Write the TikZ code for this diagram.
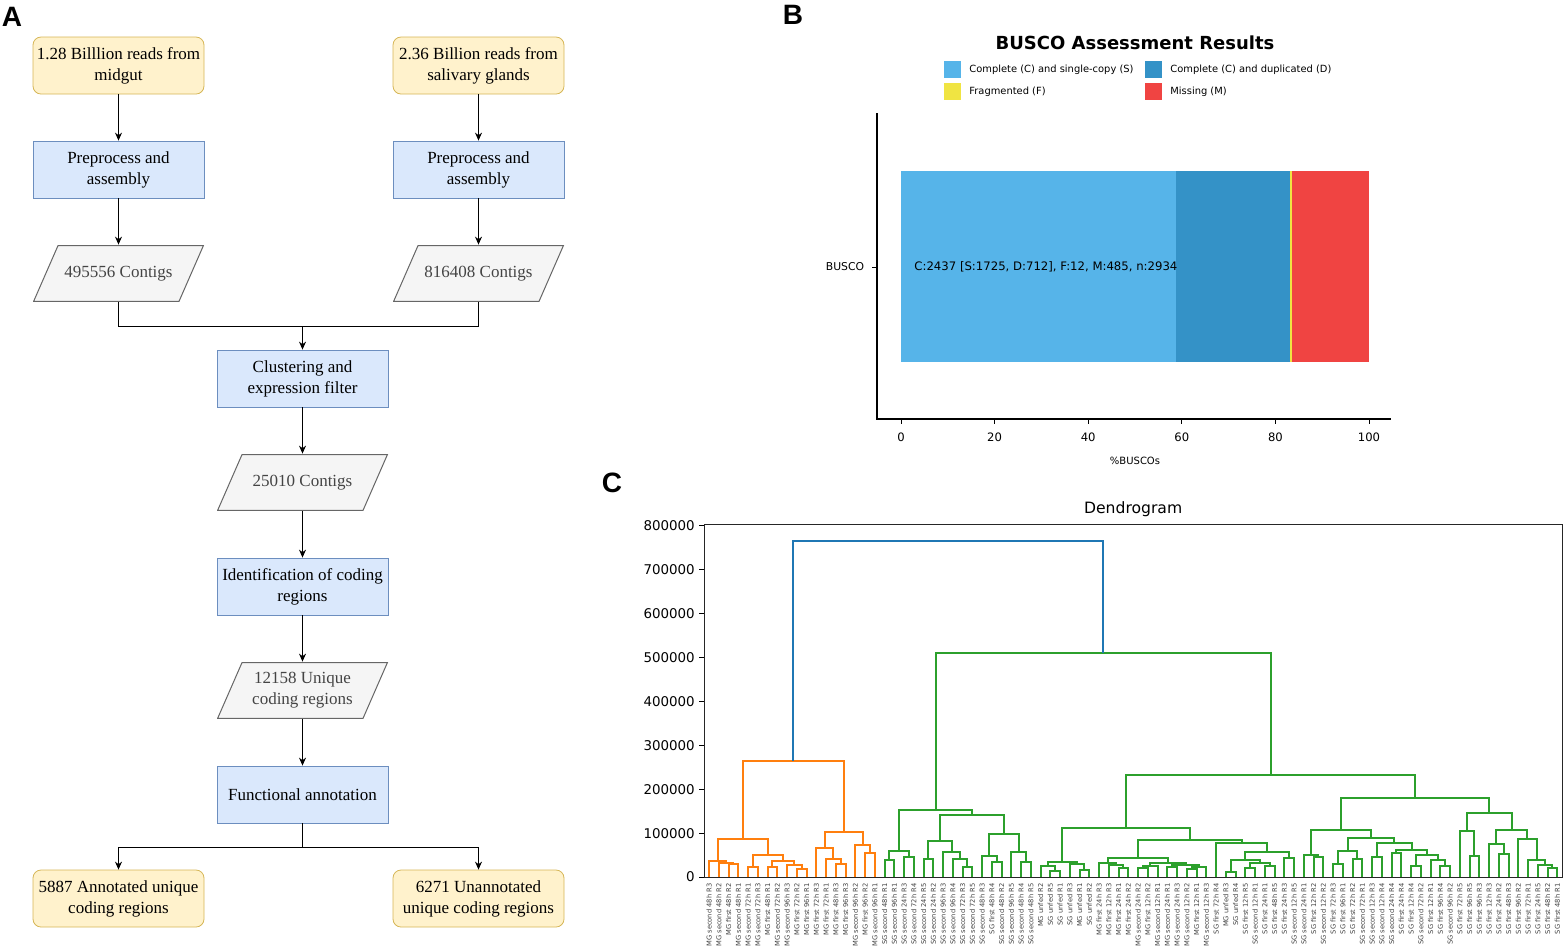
\documentclass[tikz,border=0pt]{standalone}
\usepackage{fontspec}
\setmainfont{Liberation Serif}
\newfontfamily\mplfont{DejaVu Sans}
\newfontfamily\panelfont{Liberation Sans}
\usetikzlibrary{arrows.meta,positioning}
\definecolor{readfill}{HTML}{FFF2CC}
\definecolor{readline}{HTML}{D6B656}
\definecolor{procfill}{HTML}{DAE8FC}
\definecolor{procline}{HTML}{6C8EBF}
\definecolor{datafill}{HTML}{F5F5F5}
\definecolor{dataline}{HTML}{666666}
\definecolor{datatext}{HTML}{444444}
\definecolor{buscoS}{HTML}{56B4E9}
\definecolor{buscoD}{HTML}{3492C7}
\definecolor{buscoF}{HTML}{F0E442}
\definecolor{buscoM}{HTML}{F04442}
\definecolor{tabblue}{HTML}{1F77B4}
\definecolor{taborange}{HTML}{FF7F0E}
\definecolor{tabgreen}{HTML}{2CA02C}
\newcommand{\mplsize}[1]{\mplfont\fontsize{#1}{#1}\selectfont}

\begin{document}
\begin{tikzpicture}[x=0.5pt, y=-0.5pt, >={Stealth[length=4pt,width=3.5pt]},
    readbox/.style={draw=readline, fill=readfill, rounded corners=4pt, minimum width=85.5pt, minimum height=28.5pt, inner sep=1pt, align=center, font=\fontsize{8.5}{10.5}\selectfont},
    procbox/.style={draw=procline, fill=procfill, minimum width=85.5pt, minimum height=28.5pt, inner sep=1pt, align=center, font=\fontsize{8.5}{10.5}\selectfont},
    databox/.style={fill=white, minimum width=85.5pt, minimum height=28.5pt, inner sep=1pt, align=center, text=datatext, font=\fontsize{8.5}{10.5}\selectfont,
        path picture={\draw[draw=dataline, fill=datafill, line width=0.5pt]
            ([xshift=0.3pt,yshift=0.3pt]path picture bounding box.south west)
            -- ([xshift=12.5pt,yshift=-0.3pt]path picture bounding box.north west)
            -- ([xshift=-0.3pt,yshift=-0.3pt]path picture bounding box.north east)
            -- ([xshift=-12.5pt,yshift=0.3pt]path picture bounding box.south east) -- cycle;}},
    panlab/.style={font=\panelfont\bfseries\fontsize{14}{14}\selectfont, inner sep=0pt},
    leaflab/.style={rotate=90, anchor=east, inner sep=0pt, text=black!75, font=\mplsize{3.35}},
    orangeline/.style={draw=taborange, line width=1pt},
    greenline/.style={draw=tabgreen, line width=1pt},
    blueline/.style={draw=tabblue, line width=1pt}]
\useasboundingbox (0,0) rectangle (1566,950);

\node[panlab] (labA) at (12,17) {A};
\node[panlab] (labB) at (793,15) {B};
\node[panlab] (labC) at (612,483) {C};

\node[readbox] (mg) at (118.5,65.5) {1.28 Billlion reads from\\midgut};
\node[readbox] (sg) at (478.5,65.5) {2.36 Billion reads from\\salivary glands};
\node[procbox] (mgpre) at (118.5,169.5) {Preprocess and\\assembly};
\node[procbox] (sgpre) at (478.5,169.5) {Preprocess and\\assembly};
\node[databox] (mgctg) at (118.5,273.5) {495556 Contigs};
\node[databox] (sgctg) at (478.5,273.5) {816408 Contigs};
\node[procbox] (clus) at (302.5,378.5) {Clustering and\\expression filter};
\node[databox] (allctg) at (302.5,482.5) {25010 Contigs};
\node[procbox] (ident) at (302.5,586.5) {Identification of coding\\regions};
\node[databox] (uniq) at (302.5,690.5) {12158 Unique\\coding regions};
\node[procbox] (func) at (302.5,794.5) {Functional annotation};
\node[readbox] (annot) at (118.5,898.5) {5887 Annotated unique\\coding regions};
\node[readbox] (unannot) at (478.5,898.5) {6271 Unannotated\\unique coding regions};
\coordinate (jtop) at (302.5,326);
\coordinate (jbot) at (302.5,847);

\draw[line width=0.5pt]
    (mg) edge[->] (mgpre)
    (sg) edge[->] (sgpre)
    (mgpre) edge[->] (mgctg)
    (sgpre) edge[->] (sgctg)
    (mgctg.south) |- (jtop)
    (sgctg.south) |- (jtop)
    (jtop) edge[->] (clus)
    (clus) edge[->] (allctg)
    (allctg) edge[->] (ident)
    (ident) edge[->] (uniq)
    (uniq) edge[->] (func)
    (func) -- (jbot)
    (jbot) edge[->, to path={-| (\tikztotarget)}] (annot)
    (jbot) edge[->, to path={-| (\tikztotarget)}] (unannot);

% BUSCO
\node[font=\mplfont\bfseries\fontsize{9}{9}\selectfont] (btitle) at (1135,43) {BUSCO Assessment Results};
\fill[buscoS] (944,61) rectangle (961,78);
\fill[buscoD] (1145,61) rectangle (1162,78);
\fill[buscoF] (944,83) rectangle (961,100);
\fill[buscoM] (1145,83) rectangle (1162,100);
\node[anchor=west, inner sep=0pt, font=\mplsize{4.95}] (legS) at (969,70) {Complete (C) and single-copy (S)};
\node[anchor=west, inner sep=0pt, font=\mplsize{4.95}] (legD) at (1170,70) {Complete (C) and duplicated (D)};
\node[anchor=west, inner sep=0pt, font=\mplsize{4.95}] (legF) at (969,92) {Fragmented (F)};
\node[anchor=west, inner sep=0pt, font=\mplsize{4.95}] (legM) at (1170,92) {Missing (M)};
\fill[buscoS] (901,171) rectangle (1176.1,362);
\fill[buscoD] (1176.1,171) rectangle (1289.7,362);
\fill[buscoF] (1289.7,171) rectangle (1291.6,362);
\fill[buscoM] (1291.6,171) rectangle (1369,362);
\node[anchor=west, inner sep=0pt, font=\mplsize{5.85}] (bsum) at (914,267) {C:2437 [S:1725, D:712], F:12, M:485, n:2934};
\draw[line width=0.6pt] (877,113) -- (877,419) -- (1391,419);
\draw[line width=0.5pt] (872,267) -- (877,267);
\node[font=\mplsize{5.4}] (bylab) at (845,267) {BUSCO};
\foreach \v in {0,20,...,100} {
    \draw[line width=0.5pt] ({901+4.68*\v},419) -- ({901+4.68*\v},424);
    \node[font=\mplsize{5.8}] (bt\v) at ({901+4.68*\v},437) {\v};
}
\node[font=\mplsize{5}] (bxlab) at (1135,461) {\%BUSCOs};

% Dendrogram
\begin{scope}[shift={(354.5pt,-438.5pt)}, x=4.875pt, y=21.95pt]
\draw[line width=0.5pt, black!85] (-0.5,0) rectangle (87.5,8.04);
\node[font=\mplsize{7.8}] (dtitle) at (43.5,8.37) {Dendrogram};
\foreach \k/\lab in {0/0,1/100000,2/200000,3/300000,4/400000,5/500000,6/600000,7/700000,8/800000} {
    \draw[line width=0.5pt] (-0.5,\k) -- ++(-2.5pt,0);
    \node[anchor=east, inner sep=0pt, font=\mplsize{6.7}] (yt\k) at ([xshift=-4.5pt]-0.5,\k) {\lab};
}
\foreach \a/\ha/\b/\hb/\h in {2/0/3/0/0.29, 1/0/2.5/0.29/0.33, 0/0/1.75/0.33/0.36,
    4/0/5/0/0.235, 6/0/7/0/0.235, 9/0/10/0/0.18, 8/0/9.5/0.18/0.27,
    6.5/0.235/8.75/0.27/0.36, 4.5/0.235/7.625/0.36/0.5, 0.875/0.36/6.0625/0.5/0.86,
    13/0/14/0/0.29, 12/0/13.5/0.29/0.4, 11/0/12.75/0.4/0.67, 16/0/17/0/0.54,
    15/0/16.5/0.54/0.73, 11.875/0.67/15.75/0.73/1.02, 3.46875/0.86/13.8125/1.02/2.64}
    \draw[orangeline] (\a,\ha) |- (\b,\h) -- (\b,\hb);
\foreach \a/\ha/\b/\hb/\h in {18/0/19/0/0.39, 20/0/21/0/0.45, 18.5/0.39/20.5/0.45/0.59,
    22/0/23/0/0.4, 26/0/27/0/0.235, 25/0/26.5/0.235/0.4, 24/0/25.75/0.4/0.56,
    22.5/0.4/24.875/0.56/0.83, 29/0/30/0/0.35, 28/0/29.5/0.35/0.48, 32/0/33/0/0.35,
    31/0/32.5/0.35/0.58, 28.75/0.48/31.75/0.58/0.99, 23.6875/0.83/30.25/0.99/1.41,
    19.5/0.59/26.96875/1.41/1.53,
    35/0/36/0/0.14, 34/0/35.5/0.14/0.25, 38/0/39/0/0.16, 37/0/38.5/0.16/0.3,
    34.75/0.25/37.75/0.3/0.35, 42/0/43/0/0.2, 41/0/42.5/0.2/0.27, 40/0/41.75/0.27/0.33,
    44/0/45/0/0.2, 44.5/0.2/46/0/0.25, 47/0/48/0/0.23, 49/0/50/0/0.18, 49.5/0.18/51/0/0.22,
    47.5/0.23/50.25/0.22/0.28, 45.25/0.25/48.875/0.28/0.33, 40.875/0.33/47.0625/0.33/0.43,
    53/0/54/0/0.12, 55/0/56/0/0.21, 57/0/58/0/0.24, 55.5/0.21/57.5/0.24/0.31,
    53.5/0.12/56.5/0.31/0.39, 59/0/60/0/0.43, 55/0.39/59.5/0.43/0.58, 52/0/57.25/0.58/0.78,
    43.96875/0.43/54.625/0.78/0.84, 36.25/0.35/49.296875/0.84/1.12,
    62/0/63/0/0.45, 61/0/62.5/0.45/0.5, 64/0/65/0/0.3, 66/0/67/0/0.42, 64.5/0.3/66.5/0.42/0.6,
    68/0/69/0/0.46, 70/0/71/0/0.55, 72/0/73/0/0.25, 75/0/76/0/0.25, 74/0/75.5/0.25/0.39,
    72.5/0.25/74.75/0.39/0.5, 70.5/0.55/73.625/0.5/0.61, 68.5/0.46/72.0625/0.61/0.77,
    65.5/0.6/70.28125/0.77/0.88, 61.75/0.5/67.890625/0.88/1.07,
    78/0/79/0/0.48, 77/0/78.5/0.48/1.05, 81/0/82/0/0.52, 80/0/81.5/0.52/0.75,
    86/0/87/0/0.2, 85/0/86.5/0.2/0.28, 84/0/85.75/0.28/0.38, 83/0/84.875/0.38/0.87,
    80.75/0.75/83.9375/0.87/1.07, 77.75/1.05/82.34375/1.07/1.45,
    64.8203125/1.07/80.046875/1.45/1.81, 42.7734375/1.12/72.43359375/1.81/2.32,
    23.234375/1.53/57.603515625/2.32/5.1}
    \draw[greenline] (\a,\ha) |- (\b,\h) -- (\b,\hb);
\draw[blueline] (8.640625,2.64) |- (40.4189453125,7.65) -- (40.4189453125,5.1);
\foreach \lab [count=\i from 0] in {MG second 48h R3, MG second 48h R2, MG first 48h R2, MG second 48h R1,
    MG second 72h R1, MG second 72h R3, MG first 48h R1, MG second 72h R2, MG second 96h R3,
    MG first 72h R2, MG first 96h R1, MG first 72h R3, MG first 72h R1, MG first 48h R3,
    MG first 96h R3, MG second 96h R2, MG first 96h R2, MG second 96h R1,
    SG second 48h R1, SG second 96h R1, SG second 24h R3, SG second 72h R4, SG second 24h R5,
    SG second 24h R2, SG second 96h R3, SG second 96h R4, SG second 72h R3, SG second 72h R5,
    SG second 48h R3, SG first 48h R4, SG second 48h R2, SG second 96h R5, SG second 48h R4,
    SG second 48h R5, MG unfed R2, SG unfed R5, SG unfed R1, SG unfed R3, MG unfed R1,
    SG unfed R2, MG first 24h R3, MG first 12h R3, MG first 24h R1, MG first 24h R2,
    MG second 24h R2, MG first 12h R2, MG second 12h R1, MG second 24h R1, MG second 24h R3,
    MG second 12h R2, MG first 12h R1, MG second 12h R3, SG first 72h R4, MG unfed R3,
    SG unfed R4, SG first 12h R5, SG second 12h R1, SG first 24h R1, SG first 48h R5,
    SG first 24h R3, SG second 12h R5, SG second 24h R1, SG first 12h R2, SG second 12h R2,
    SG first 72h R3, SG first 96h R1, SG first 72h R2, SG second 72h R1, SG second 12h R3,
    SG second 12h R4, SG second 24h R4, SG first 24h R4, SG first 12h R4, SG second 72h R2,
    SG first 12h R1, SG first 96h R4, SG second 96h R2, SG first 72h R5, SG first 96h R5,
    SG first 96h R3, SG first 12h R3, SG first 24h R2, SG first 48h R3, SG first 96h R2,
    SG first 72h R1, SG first 24h R5, SG first 48h R2, SG first 48h R1}
    \node[leaflab] (lf\i) at (\i,-0.14) {\lab};
\end{scope}
\end{tikzpicture}
\end{document}
